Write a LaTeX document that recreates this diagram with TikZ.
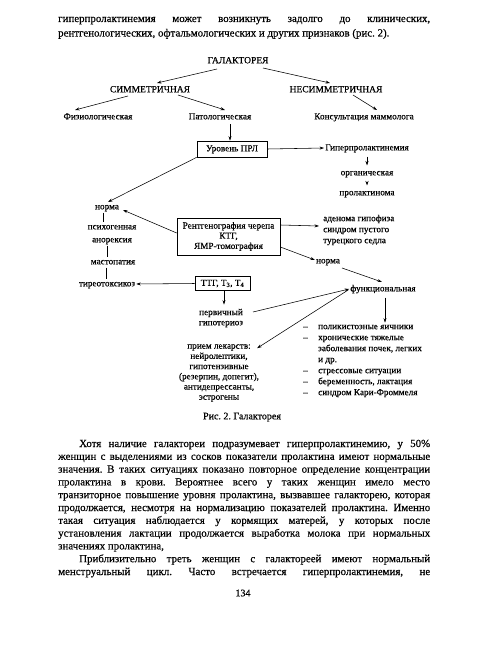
\documentclass[tikz,border=0pt]{standalone}
\usepackage{fontspec}
\setmainfont{Liberation Serif}[FakeBold=0.35]
\frenchspacing
\usetikzlibrary{calc,arrows.meta}
\begin{document}
\begin{tikzpicture}[x=1pt,y=-1pt,
  every node/.style={inner sep=1pt, font=\fontsize{9.2}{10}\selectfont},
  lbl/.style={text height=6.6pt, text depth=2pt},
  capslbl/.style={lbl, font=\fontsize{9.5}{10}\selectfont},
  multi/.style={align=center, font=\fontsize{9.2}{10.2}\selectfont},
  arr/.style={-{Stealth[length=4.5pt,width=3pt]}, line width=0.55pt},
  bar/.style={line width=0.5pt},
  bx/.style={draw, line width=0.7pt},
  body/.style={anchor=base west, inner sep=0pt, font=\fontsize{10.9}{13}\selectfont}
]
\useasboundingbox[fill=white] (0,0) rectangle (488,650);

% ---------- text above ----------
\node[body] (t1) at (58,22) {\makebox[372pt][s]{гиперпролактинемия может возникнуть задолго до клинических,}};
\node[body] (t2) at (58,36.5) {рентгенологических, офтальмологических и других признаков (рис.~2).};

% ---------- diagram ----------
\node[capslbl] (gal) at (238,61) {ГАЛАКТОРЕЯ};
\node[capslbl] (sym) at (150,90) {СИММЕТРИЧНАЯ};
\node[capslbl] (nsym) at (336,90) {НЕСИММЕТРИЧНАЯ};
\node[lbl] (fiz) at (98,117) {Физиологическая};
\node[lbl] (pat) at (220,117) {Патологическая};
\node[lbl] (kons) at (364,117) {Консультация маммолога};

\node[bx, lbl, minimum width=70pt, minimum height=16pt] (prl) at (232,149) {Уровень ПРЛ};
\node[lbl] (hyper) at (367,148) {Гиперпролактинемия};
\node[lbl] (org) at (367,173) {органическая};
\node[lbl] (prolak) at (367,193) {пролактинома};

\node[lbl] (norma1) at (107,207) {норма};
\node[lbl] (psych) at (112,227) {психогенная};
\node[lbl] (anor) at (112,240) {анорексия};
\node[lbl] (mast) at (113,262) {мастопатия};
\node[lbl] (tireo) at (107,284) {тиреотоксикоз};

\node[bx, multi, minimum width=103pt, minimum height=37pt, inner xsep=3pt] (rtg) at (228.5,236.5)
  {Рентгенография черепа\\КТГ,\\ЯМР-томография};
\node[anchor=west, align=left, font=\fontsize{9.2}{11}\selectfont] (aden) at (322,230)
  {аденома гипофиза\\синдром пустого\\турецкого седла};
\node[lbl] (norma2) at (328,261) {норма};
\node[lbl] (funk) at (383,289) {функциональная};

\node[bx, lbl, minimum width=55pt, minimum height=14pt] (ttg) at (222.5,283.5) {ТТГ, Т\textsubscript{3}, Т\textsubscript{4}};
\node[multi] (perv) at (221,318) {первичный\\гипотериоз};
\node[multi] (priem) at (219,373) {прием лекарств:\\нейролептики,\\гипотензивные\\(резерпин, допегит),\\антидепрессанты,\\эстрогены};

\node[anchor=west, align=left, font=\fontsize{9.2}{11}\selectfont] (list) at (302,361)
  {\makebox[15pt][l]{–}поликистозные яичники\\
   \makebox[15pt][l]{–}хронические тяжелые\\
   \hspace*{15pt}заболевания почек, легких\\
   \hspace*{15pt}и др.\\
   \makebox[15pt][l]{–}стрессовые ситуации\\
   \makebox[15pt][l]{–}беременность, лактация\\
   \makebox[15pt][l]{–}синдром Кари-Фроммеля};

\node[lbl, font=\fontsize{10}{11}\selectfont] (caption) at (242,417) {Рис. 2. Галакторея};

% ---------- connectors ----------
\draw[arr] ($(gal.center)+(-21,8)$) -- ($(sym.center)+(7,-7)$);
\draw[arr] ($(gal.center)+(25,7)$) -- ($(nsym.center)+(-6,-7)$);
\draw[arr] ($(sym.center)+(-22,6)$) -- ($(fiz.center)+(-23,-7)$);
\draw[arr] ($(sym.center)+(28,5)$) -- ($(pat.center)+(5,-7)$);
\draw[arr] ($(nsym.center)+(17,5)$) -- ($(kons.center)+(13,-7)$);
\draw[arr] ($(prl.north |- pat.south)+(-2,2)$) -- ($(prl.north)+(-2,0)$);
\draw[arr] (prl.east) -- (hyper.west);
\draw[arr, shorten <=3pt, shorten >=2pt] (hyper.south) -- (org.north);
\draw[arr, shorten <=3pt, shorten >=2pt] (org.south) -- (prolak.north);
\draw[arr] (prl.south west) -- ($(norma1.center)+(1,-5)$);
\draw[arr] ($(rtg.west)+(0,-3.5)$) -- ($(norma1.center)+(16,3)$);
\draw[arr] ($(rtg.east)+(0,-11.5)$) -- ($(aden.west)+(-3,-4)$);
\draw[arr] ($(rtg.east)+(0,10.5)$) -- ($(norma2.west)+(0,-1)$);
\draw[arr] ($(norma2.center)+(14,7)$) -- ($(funk.center)+(-1,-7)$);
\draw[arr] ($(funk.south)+(2,3)$) -- ($(funk.south |- list.north)+(2,-1)$);
\draw[arr] ($(perv.center)+(32,-6)$) -- ($(funk.west)+(0,0)$);
\draw[arr] ($(funk.west)+(-1,1)$) -- ($(priem.north east)+(-3,5)$);
\draw[arr] (ttg.west) -- (tireo.east);
\draw[arr] ($(ttg.south)+(1.5,0)$) -- ($(ttg.south |- perv.north)+(1.5,-3)$);
\draw[bar] ($(norma1.south)+(-4,0)$) -- ($(psych.north)+(-9,0)$);
\draw[bar] ($(anor.south)+(-5,0)$) -- ($(mast.north)+(-6,0)$);
\draw[bar] ($(mast.south)+(-7,0)$) -- ($(tireo.north)+(-1,0)$);

% ---------- text below ----------
\node[body] (p1) at (58,447) {\hspace*{21pt}\makebox[351pt][s]{Хотя наличие галактореи подразумевает гиперпролактинемию, у 50\%}};
\node[body] (p2) at (58,459.8) {\makebox[372pt][s]{женщин с выделениями из сосков показатели пролактина имеют нормальные}};
\node[body] (p3) at (58,472.6) {\makebox[372pt][s]{значения. В таких ситуациях показано повторное определение концентрации}};
\node[body] (p4) at (58,485.4) {\makebox[372pt][s]{пролактина в крови. Вероятнее всего у таких женщин имело место}};
\node[body] (p5) at (58,498.2) {\makebox[372pt][s]{транзиторное повышение уровня пролактина, вызвавшее галакторею, которая}};
\node[body] (p6) at (58,511) {\makebox[372pt][s]{продолжается, несмотря на нормализацию показателей пролактина. Именно}};
\node[body] (p7) at (58,523.8) {\makebox[372pt][s]{такая ситуация наблюдается у кормящих матерей, у которых после}};
\node[body] (p8) at (58,536.6) {\makebox[372pt][s]{установления лактации продолжается выработка молока при нормальных}};
\node[body] (p9) at (58,549.4) {значениях пролактина,};
\node[body] (p10) at (58,562.2) {\hspace*{21pt}\makebox[351pt][s]{Приблизительно треть женщин с галактореей имеют нормальный}};
\node[body] (p11) at (58,575) {\makebox[372pt][s]{менструальный цикл. Часто встречается гиперпролактинемия, не}};
\node[lbl, font=\fontsize{10}{11}\selectfont] (page) at (243,594) {134};
\end{tikzpicture}
\end{document}
